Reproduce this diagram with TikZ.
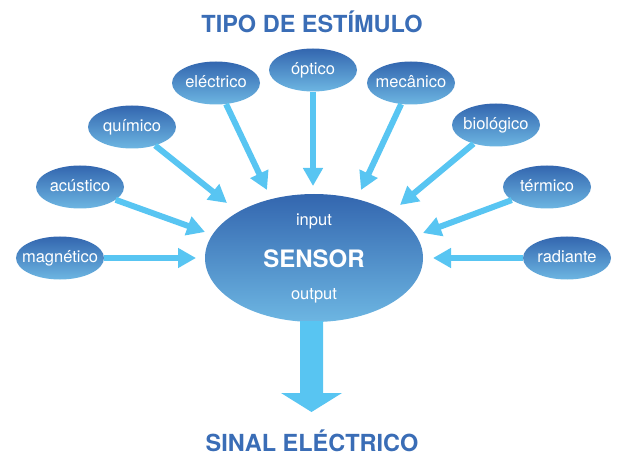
\documentclass[tikz,border=0pt]{standalone}
\usepackage{fontspec}
\setmainfont{TeX Gyre Heros}
\usetikzlibrary{arrows.meta,shapes.geometric}
\definecolor{titleblue}{HTML}{3A6DB6}
\definecolor{arrowblue}{HTML}{58C5F2}
\definecolor{elltop}{HTML}{3366AF}
\definecolor{ellbot}{HTML}{6DB6E2}
\tikzset{
  stim/.style={ellipse, minimum width=88bp, minimum height=43bp, inner sep=0pt,
    top color=elltop, bottom color=ellbot},
  stimtxt/.style={text=white, inner sep=0pt, text height=12bp, text depth=3.6bp,
    font=\fontsize{16.5bp}{18bp}\selectfont},
  bigell/.style={ellipse, minimum width=218bp, minimum height=128bp, inner sep=0pt,
    top color=elltop, bottom color=ellbot},
  inlbl/.style={text=white, inner sep=0pt, font=\fontsize{16.5bp}{18bp}\selectfont},
  arr/.style={draw=arrowblue, line width=6bp, -{Triangle[length=18bp,width=19bp]}},
  ttl/.style={text=titleblue, inner sep=0pt, anchor=base, font=\fontsize{23.5bp}{26bp}\selectfont\bfseries}
}
\begin{document}
\begin{tikzpicture}[x=1bp,y=-1bp]
\useasboundingbox (0,0) rectangle (619,457);
\node[ttl] (title) at (312,33) {TIPO DE ESTÍMULO};
\node[ttl] (bottom) at (312,451) {SINAL ELÉCTRICO};

\node[bigell] (sensor) at (314,258) {};
\node[inlbl] (input) at (314,221) {input};
\node[inlbl, font=\fontsize{24bp}{26bp}\selectfont\bfseries] (sname) at (314,259) {SENSOR};
\node[inlbl] (output) at (314,296) {output};

\node[stim] (mag) at (60,258) {};
\node[stim] (acu) at (80,187) {};
\node[stim] (qui) at (132,127) {};
\node[stim] (ele) at (216,83) {};
\node[stim] (opt) at (313,70) {};
\node[stim] (mec) at (411,83) {};
\node[stim] (bio) at (496,125) {};
\node[stim] (ter) at (547,187) {};
\node[stim] (rad) at (567,258) {};

\node[stimtxt] (lmag) at (mag) {magnético};
\node[stimtxt] (lacu) at (acu) {acústico};
\node[stimtxt] (lqui) at (qui) {químico};
\node[stimtxt] (lele) at (ele) {eléctrico};
\node[stimtxt] (lopt) at (opt) {óptico};
\node[stimtxt] (lmec) at (mec) {mecânico};
\node[stimtxt] (lbio) at (bio) {biológico};
\node[stimtxt] (lter) at (ter) {térmico};
\node[stimtxt] (lrad) at (rad) {radiante};

\coordinate (tmag) at (196,258);
\coordinate (tacu) at (205,232);
\coordinate (tqui) at (227,203);
\coordinate (tele) at (267,190);
\coordinate (topt) at (313,186);
\coordinate (tmec) at (361,190);
\coordinate (tbio) at (400,205);
\coordinate (tter) at (423,233);
\coordinate (trad) at (433,258);

\draw[arr] (mag) -- (tmag);
\draw[arr] (acu) -- (tacu);
\draw[arr] (qui) -- (tqui);
\draw[arr] (ele) -- (tele);
\draw[arr] (opt) -- (topt);
\draw[arr] (mec) -- (tmec);
\draw[arr] (bio) -- (tbio);
\draw[arr] (ter) -- (tter);
\draw[arr] (rad) -- (trad);

\fill[arrowblue] (300,321) -- (323,321) -- (323,393) -- (342,393) -- (311.5,412)
  -- (281,393) -- (300,393) -- cycle;
\end{tikzpicture}
\end{document}
